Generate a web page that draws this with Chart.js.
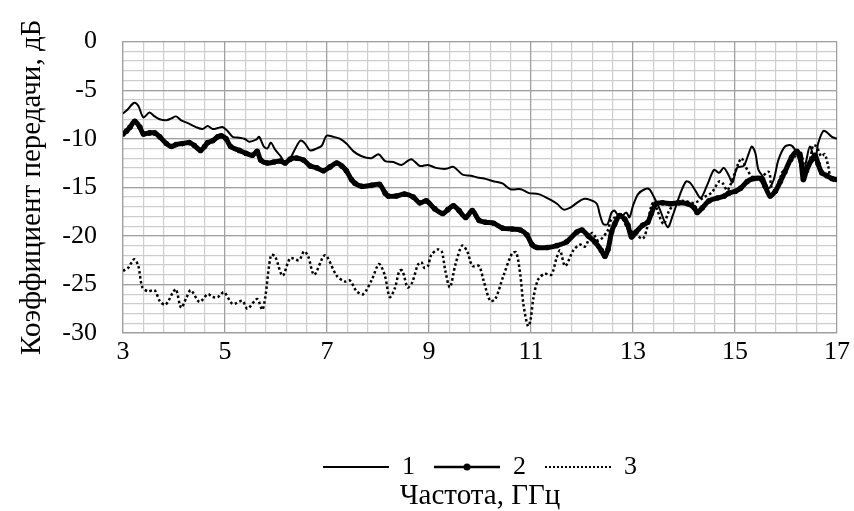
<!DOCTYPE html>
<html>
<head>
<meta charset="utf-8">
<script src="https://cdn.jsdelivr.net/npm/chart.js@4"></script>
<style>
  body { margin: 0; background: #fff; }
</style>
</head>
<body>
<canvas id="chart" width="854" height="511"></canvas>
<script>
// series 1 (thin solid)
const f1 = [3.0, 3.07, 3.22, 3.3, 3.4, 3.52, 3.62, 3.72, 3.85, 3.95, 4.04, 4.14, 4.27, 4.43, 4.56, 4.66, 4.76, 4.86, 4.95, 5.05,
  5.15, 5.28, 5.38, 5.47, 5.61, 5.67, 5.76, 5.83, 5.9, 5.98, 6.09, 6.18, 6.28, 6.38, 6.48, 6.57, 6.67, 6.8, 6.9, 6.99,
  7.12, 7.25, 7.38, 7.52, 7.68, 7.87, 8.01, 8.14, 8.3, 8.46, 8.65, 8.82, 8.98, 9.14, 9.33, 9.48, 9.66, 9.82, 9.95, 10.08,
  10.28, 10.44, 10.6, 10.8, 10.96, 11.15, 11.35, 11.51, 11.64, 11.77, 11.9, 12.03, 12.16, 12.29, 12.35, 12.42, 12.5, 12.58, 12.64, 12.74,
  12.87, 12.93, 13.0, 13.1, 13.23, 13.32, 13.42, 13.52, 13.68, 13.78, 13.91, 14.04, 14.13, 14.23, 14.33, 14.46, 14.59, 14.69, 14.78, 14.88,
  14.95, 15.04, 15.17, 15.27, 15.33, 15.4, 15.46, 15.56, 15.66, 15.76, 15.85, 15.98, 16.11, 16.21, 16.34, 16.4, 16.47, 16.57, 16.63, 16.73,
  16.79, 16.9, 17.0];
const v1 = [-7.4, -7.1, -6.3, -6.6, -7.8, -7.3, -7.7, -8.0, -8.1, -7.9, -7.7, -8.1, -8.4, -8.8, -9.0, -8.7, -9.0, -8.9, -8.8, -9.2,
  -9.8, -9.9, -10.0, -10.3, -10.1, -9.8, -10.8, -11.0, -10.4, -11.1, -11.8, -12.5, -12.0, -11.0, -10.2, -10.5, -11.2, -11.0, -10.7, -9.7,
  -9.8, -10.0, -10.5, -11.3, -11.8, -12.0, -11.6, -12.3, -12.4, -12.7, -12.1, -12.8, -12.7, -13.0, -13.1, -12.9, -13.7, -13.8, -14.0, -14.1,
  -14.4, -14.6, -15.2, -15.2, -15.6, -15.7, -16.2, -16.7, -17.3, -17.1, -16.6, -16.2, -16.3, -16.7, -17.8, -18.8, -18.8, -17.6, -17.4, -18.1,
  -17.6, -18.1, -16.9, -15.7, -15.2, -15.2, -16.1, -17.2, -19.1, -17.9, -15.9, -14.4, -14.6, -15.4, -16.1, -14.7, -13.2, -13.5, -13.0, -13.8,
  -14.5, -13.0, -12.8, -11.5, -10.8, -11.5, -13.2, -14.0, -15.1, -14.2, -12.2, -10.8, -10.7, -11.5, -13.5, -12.2, -10.8, -12.2, -10.5, -9.2,
  -9.3, -9.8, -10.0];

// series 2 (thick with markers)
const f2 = [3.0, 3.07, 3.14, 3.23, 3.33, 3.4, 3.52, 3.62, 3.72, 3.85, 3.95, 4.04, 4.17, 4.3, 4.4, 4.52, 4.6, 4.66, 4.76, 4.86,
  4.93, 5.02, 5.11, 5.28, 5.41, 5.54, 5.63, 5.7, 5.83, 5.96, 6.09, 6.18, 6.28, 6.41, 6.54, 6.67, 6.8, 6.93, 7.06, 7.19,
  7.29, 7.38, 7.48, 7.55, 7.68, 7.87, 8.03, 8.14, 8.2, 8.36, 8.52, 8.69, 8.82, 8.95, 9.11, 9.27, 9.37, 9.48, 9.59, 9.72,
  9.85, 9.98, 10.11, 10.27, 10.44, 10.63, 10.79, 10.92, 11.02, 11.12, 11.32, 11.51, 11.7, 11.9, 12.0, 12.12, 12.25, 12.38, 12.45, 12.51,
  12.58, 12.64, 12.74, 12.84, 12.9, 12.97, 13.06, 13.19, 13.29, 13.36, 13.45, 13.58, 13.74, 13.9, 14.07, 14.2, 14.26, 14.36, 14.49, 14.66,
  14.79, 14.88, 15.01, 15.11, 15.24, 15.37, 15.5, 15.59, 15.69, 15.79, 15.89, 15.98, 16.11, 16.21, 16.28, 16.34, 16.4, 16.5, 16.57, 16.63,
  16.7, 16.8, 16.9, 17.0];
const v2 = [-9.5, -9.2, -8.8, -8.2, -8.8, -9.5, -9.4, -9.4, -9.8, -10.5, -10.8, -10.6, -10.5, -10.4, -10.7, -11.2, -10.8, -10.4, -10.2, -9.8,
  -9.7, -10.0, -10.8, -11.2, -11.5, -11.7, -11.3, -12.2, -12.5, -12.4, -12.3, -12.5, -12.1, -12.0, -12.2, -12.8, -13.0, -13.3, -12.9, -12.5,
  -12.8, -13.3, -14.2, -14.6, -14.9, -14.8, -14.7, -15.6, -15.9, -15.9, -15.7, -16.0, -16.6, -16.4, -17.2, -17.7, -17.3, -16.9, -17.4, -18.1,
  -17.4, -18.4, -18.6, -18.7, -19.2, -19.3, -19.4, -19.9, -20.9, -21.2, -21.2, -21.0, -20.6, -19.6, -19.4, -20.0, -20.6, -21.5, -22.1, -21.4,
  -19.6, -18.8, -17.9, -18.3, -18.9, -20.1, -19.6, -18.9, -18.6, -17.7, -16.7, -16.6, -16.7, -16.6, -16.7, -17.1, -17.6, -17.1, -16.4, -16.1,
  -15.9, -15.6, -15.4, -15.1, -14.4, -14.1, -14.1, -14.9, -15.9, -15.4, -14.4, -13.4, -11.9, -11.3, -11.8, -14.2, -13.3, -12.2, -11.7, -12.6,
  -13.5, -13.8, -14.1, -14.2];

// series 3 (dotted)
const f3 = [3.0, 3.1, 3.22, 3.3, 3.38, 3.49, 3.62, 3.72, 3.82, 3.88, 3.98, 4.04, 4.14, 4.24, 4.33, 4.5, 4.66, 4.76, 4.86, 4.98,
  5.15, 5.34, 5.44, 5.63, 5.73, 5.79, 5.9, 5.98, 6.13, 6.28, 6.45, 6.55, 6.63, 6.75, 6.96, 7.19, 7.35, 7.45, 7.58, 7.71,
  7.88, 8.02, 8.13, 8.23, 8.33, 8.42, 8.48, 8.58, 8.67, 8.78, 8.85, 8.91, 8.98, 9.04, 9.17, 9.25, 9.32, 9.41, 9.52, 9.65,
  9.75, 9.85, 9.98, 10.07, 10.2, 10.3, 10.46, 10.63, 10.71, 10.79, 10.85, 10.94, 10.99, 11.05, 11.14, 11.27, 11.4, 11.5, 11.57, 11.67,
  11.83, 11.96, 12.06, 12.2, 12.32, 12.5, 12.58, 12.77, 12.9, 13.05, 13.19, 13.27, 13.36, 13.42, 13.48, 13.6, 13.7, 13.85, 14.0, 14.2,
  14.4, 14.55, 14.69, 14.76, 14.85, 15.0, 15.07, 15.13, 15.2, 15.33, 15.46, 15.66, 15.72, 15.82, 15.92, 16.01, 16.18, 16.28, 16.37, 16.47,
  16.53, 16.6, 16.69, 16.76, 16.83, 16.87, 16.95];
const v3 = [-23.6, -23.3, -22.4, -23.1, -25.3, -25.7, -25.6, -26.7, -27.1, -26.8, -25.8, -25.5, -27.4, -26.4, -25.6, -26.8, -26.0, -26.3, -26.3, -25.8,
  -27.0, -26.7, -27.5, -26.5, -27.6, -26.3, -22.0, -22.1, -24.1, -22.3, -22.5, -21.6, -22.1, -24.0, -22.0, -24.1, -24.7, -24.6, -25.7, -26.0,
  -24.5, -22.9, -24.0, -26.3, -25.4, -23.6, -23.6, -25.3, -24.8, -23.0, -22.7, -23.3, -23.1, -22.0, -21.4, -21.6, -23.6, -25.3, -22.9, -21.0,
  -21.6, -23.1, -23.1, -24.6, -26.7, -26.5, -24.1, -21.8, -21.7, -24.0, -27.0, -29.3, -28.7, -26.3, -24.5, -23.9, -24.0, -22.3, -21.5, -23.1,
  -21.5, -20.9, -21.1, -19.7, -20.5, -19.5, -18.3, -18.1, -19.3, -19.8, -20.3, -19.3, -16.9, -16.5, -17.4, -18.8, -17.5, -16.5, -16.4, -16.6,
  -16.0, -15.5, -14.4, -14.6, -15.3, -13.5, -12.5, -12.0, -12.8, -13.9, -14.2, -13.4, -15.0, -15.2, -13.5, -13.0, -11.8, -11.3, -12.9, -12.1,
  -10.7, -10.8, -11.8, -11.6, -12.9, -13.9, -14.4];

const seriesNames = ['1', '2', '3'];
const xLabels = [3, 5, 7, 9, 11, 13, 15, 17];
const yLabels = [-30, -25, -20, -15, -10, -5, 0];
const xMinorStep = 0.4;
const yMinorStep = 1;

const FONT = 'Liberation Serif';
const majorGrid = '#a0a0a0';
const minorGrid = '#cdcdcd';

function toPoints(fs, vs) {
  return fs.map((f, i) => ({ x: f, y: vs[i] }));
}

function stepTicks(min, max, step) {
  const t = [];
  const n = Math.round((max - min) / step);
  for (let i = 0; i <= n; i++) t.push({ value: min + i * step });
  return t;
}

// small pictures for the legend: line, line with dot, dotted line
function legendIcon(kind) {
  const c = document.createElement('canvas');
  c.width = 66; c.height = 10;
  const g = c.getContext('2d');
  g.strokeStyle = '#000';
  g.lineWidth = kind === 2 ? 2.5 : 2;
  if (kind === 3) g.setLineDash([2, 2]);
  g.beginPath(); g.moveTo(0, 5); g.lineTo(66, 5); g.stroke();
  if (kind === 2) {
    g.fillStyle = '#000';
    g.beginPath(); g.arc(33, 5, 3.5, 0, Math.PI * 2); g.fill();
  }
  return c;
}
const icons = [legendIcon(1), legendIcon(2), legendIcon(3)];

new Chart(document.getElementById('chart'), {
  type: 'line',
  data: {
    datasets: [
      {
        label: seriesNames[0],
        data: toPoints(f1, v1),
        borderColor: '#000',
        borderWidth: 2,
        pointRadius: 0,
        tension: 0.3
      },
      {
        label: seriesNames[1],
        data: toPoints(f2, v2),
        borderColor: '#000',
        borderWidth: 5,
        pointRadius: 2.8,
        pointBorderWidth: 0,
        pointBackgroundColor: '#000',
        tension: 0.3
      },
      {
        label: seriesNames[2],
        data: toPoints(f3, v3),
        borderColor: '#000',
        borderWidth: 2.5,
        borderDash: [2.5, 2.5],
        pointRadius: 0,
        tension: 0.3
      }
    ]
  },
  options: {
    responsive: false,
    animation: false,
    layout: { padding: { top: 36, right: 11, left: 0, bottom: 0 } },
    scales: {
      x: {
        type: 'linear',
        min: 3,
        max: 17,
        afterBuildTicks: axis => { axis.ticks = xLabels.map(v => ({ value: v })); },
        afterFit: axis => { axis.height = 102; },
        ticks: {
          autoSkip: false,
          maxRotation: 0,
          padding: 4,
          color: '#000',
          font: { family: FONT, size: 26 }
        },
        grid: { drawTicks: false, color: majorGrid, lineWidth: 1.2 },
        border: { color: majorGrid, width: 1.2 }
      },
      xMinor: {
        type: 'linear',
        position: 'bottom',
        min: 3,
        max: 17,
        afterBuildTicks: axis => { axis.ticks = stepTicks(3, 17, xMinorStep); },
        afterFit: axis => { axis.height = 0; },
        ticks: { display: false },
        grid: { drawTicks: false, color: minorGrid, lineWidth: 1.2, z: -2 },
        border: { display: false }
      },
      y: {
        min: -30,
        max: 0,
        afterBuildTicks: axis => { axis.ticks = yLabels.map(v => ({ value: v })); },
        afterFit: axis => { axis.width = 123; },
        ticks: {
          autoSkip: false,
          padding: 26,
          color: '#000',
          font: { family: FONT, size: 26 }
        },
        grid: { drawTicks: false, color: majorGrid, lineWidth: 1.2 },
        border: { color: majorGrid, width: 1.2 },
        title: {
          display: true,
          text: 'Коэффициент передачи, дБ',
          color: '#000',
          font: { family: FONT, size: 29 },
          padding: { top: 15, bottom: 0 }
        }
      },
      yMinor: {
        position: 'left',
        min: -30,
        max: 0,
        afterBuildTicks: axis => { axis.ticks = stepTicks(-30, 0, yMinorStep); },
        afterFit: axis => { axis.width = 0; },
        ticks: { display: false },
        grid: { drawTicks: false, color: minorGrid, lineWidth: 1.2, z: -2 },
        border: { display: false }
      }
    },
    plugins: {
      legend: {
        position: 'bottom',
        fullSize: false,
        labels: {
          usePointStyle: true,
          pointStyleWidth: 66,
          padding: 19,
          color: '#000',
          font: { family: FONT, size: 26 },
          generateLabels: chart => chart.data.datasets.map((ds, i) => ({
            text: ds.label,
            pointStyle: icons[i],
            datasetIndex: i,
            hidden: false,
            lineWidth: 0,
            strokeStyle: 'rgba(0,0,0,0)',
            fillStyle: 'rgba(0,0,0,0)'
          }))
        }
      },
      title: {
        display: true,
        position: 'bottom',
        fullSize: false,
        text: 'Частота, ГГц',
        color: '#000',
        font: { family: FONT, size: 29, weight: 'normal', lineHeight: 1 },
        padding: { top: -8, bottom: 0 }
      },
      tooltip: { enabled: false }
    }
  }
});
</script>
</body>
</html>
